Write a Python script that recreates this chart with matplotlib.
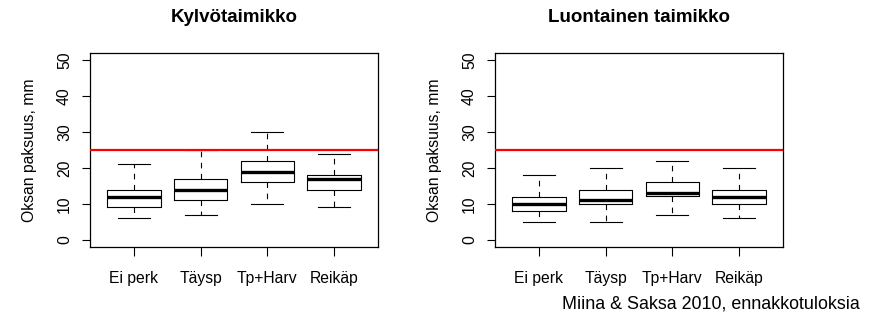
import numpy as np
import matplotlib.pyplot as plt

plt.rcParams['font.family'] = ['Liberation Sans', 'DejaVu Sans']

ryhmat = ['Ei perk', 'Täysp', 'Tp+Harv', 'Reikäp']

# Kylvotaimikko: alaviiksi, Q1, mediaani, Q3, ylaviiksi
kylvo_min = [6, 7, 10, 9]
kylvo_q1 = [9, 11, 16, 14]
kylvo_med = [12, 14, 19, 17]
kylvo_q3 = [14, 17, 22, 18]
kylvo_max = [21, 25, 30, 24]

# Luontainen taimikko
luont_min = [5, 5, 7, 6]
luont_q1 = [8, 10, 12.2, 10]
luont_med = [10, 11, 13, 12]
luont_q3 = [12, 14, 16, 14]
luont_max = [18, 20, 22, 20]

raja = 25


def tilastot(mins, q1, med, q3, maxs):
    return [{'whislo': a, 'q1': b, 'med': c, 'q3': d, 'whishi': e, 'fliers': []}
            for a, b, c, d, e in zip(mins, q1, med, q3, maxs)]


def piirra(ax, stats, otsikko):
    ax.bxp(stats, positions=[1, 2, 3, 4], widths=0.8, showfliers=False,
           boxprops=dict(color='black', linewidth=0.8),
           medianprops=dict(color='black', linewidth=2.4, solid_capstyle='butt'),
           whiskerprops=dict(color='black', linewidth=0.8, linestyle=(0, (5, 5))),
           capprops=dict(color='black', linewidth=0.8),
           capwidths=0.48)
    ax.axhline(raja, color='red', linewidth=1.6, zorder=3)
    ax.set_xlim(0.34, 4.66)
    ax.set_ylim(-2, 52)
    ax.set_yticks([0, 10, 20, 30, 40, 50])
    ax.set_xticks([1, 2, 3, 4])
    ax.set_xticklabels(ryhmat)
    ax.tick_params(axis='y', direction='out', length=6, width=0.8, pad=7,
                   labelsize=11.3, labelrotation=90)
    ax.tick_params(axis='x', direction='out', length=6.5, width=0.8, pad=10.5,
                   labelsize=11.3)
    for lab in ax.get_yticklabels():
        lab.set_va('center')
    ax.set_ylabel('Oksan paksuus, mm', fontsize=11.3, labelpad=14)
    ax.set_title(otsikko, fontsize=13.5, fontweight='bold', pad=22.5)
    for s in ax.spines.values():
        s.set_linewidth(0.9)


fig = plt.figure(figsize=(8.77, 3.16), dpi=100)
ax1 = fig.add_axes([0.1026, 0.2184, 0.3284, 0.6139])
ax2 = fig.add_axes([0.5644, 0.2184, 0.3284, 0.6139])

piirra(ax1, tilastot(kylvo_min, kylvo_q1, kylvo_med, kylvo_q3, kylvo_max), 'Kylvötaimikko')
piirra(ax2, tilastot(luont_min, luont_q1, luont_med, luont_q3, luont_max), 'Luontainen taimikko')

fig.text(0.98, 1 - 304 / 316, 'Miina & Saksa 2010, ennakkotuloksia', ha='right',
         va='center', fontsize=12.9)

fig.savefig('out.png', dpi=100)
